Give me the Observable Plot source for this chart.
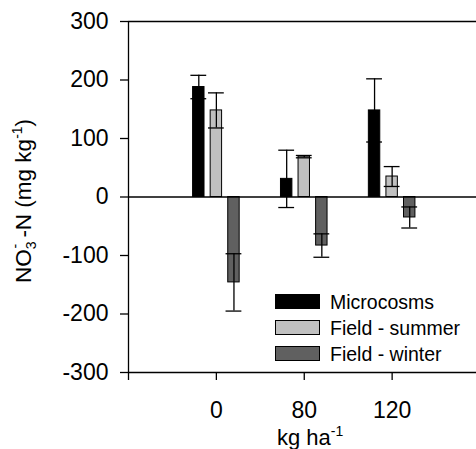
<!DOCTYPE html>
<html><head><meta charset="utf-8">
<script src="https://cdn.jsdelivr.net/npm/d3@7"></script>
<script src="https://cdn.jsdelivr.net/npm/@observablehq/plot@0.6"></script>
<style>body{margin:0;overflow:hidden;background:#fff} svg{display:block}</style>
</head><body><div id="chart"></div>
<script>
const categories = ["0", "80", "120"];
const seriesNames = ["Microcosms", "Field - summer", "Field - winter"];
const microcosms = [188, 31, 148];
const microcosmsErr = [20, 49, 54];
const fieldSummer = [148, 69, 35];
const fieldSummerErr = [30, 2, 17];
const fieldWinter = [-146, -83, -35];
const fieldWinterErr = [49, 20, 18];
const yTicks = [-300, -200, -100, 0, 100, 200, 300];
const colors = ["#000000", "#c0c0c0", "#606060"];

const values = [microcosms, fieldSummer, fieldWinter];
const errs = [microcosmsErr, fieldSummerErr, fieldWinterErr];
const data = [];
seriesNames.forEach((s, si) => categories.forEach((c, ci) =>
  data.push({series: s, si, ci, cat: c, value: values[si][ci], err: errs[si][ci]})));

const groupX = d => d.ci + 1 + (d.si - 1) * 0.2;
const barHalf = 0.065, capHalf = 0.09;
const font = "'Liberation Sans', Arial, Helvetica, sans-serif";

const chart = Plot.plot({
  width: 476, height: 449,
  marginLeft: 128, marginRight: 0, marginTop: 21, marginBottom: 77,
  style: {fontFamily: font, fontSize: "23px", color: "#000", background: "#fff", overflow: "visible"},
  x: {domain: [0, 3.96]},
  y: {domain: [-300, 300]},
  color: {domain: seriesNames, range: colors},
  marks: [
    Plot.rect(data, {x1: d => groupX(d) - barHalf, x2: d => groupX(d) + barHalf, y1: 0, y2: "value",
      fill: "series", stroke: "#000", strokeWidth: 1}),
    Plot.ruleX(data, {x: groupX, y1: d => d.value - d.err, y2: d => d.value + d.err, stroke: "#000", strokeWidth: 1.3}),
    Plot.ruleY(data, {x1: d => groupX(d) - capHalf, x2: d => groupX(d) + capHalf, y: d => d.value + d.err, stroke: "#000", strokeWidth: 1.3}),
    Plot.ruleY(data, {x1: d => groupX(d) - capHalf, x2: d => groupX(d) + capHalf, y: d => d.value - d.err, stroke: "#000", strokeWidth: 1.3}),
    Plot.ruleY([-300, 0, 300], {stroke: "#000", strokeWidth: 1.3}),
    Plot.ruleX([0], {stroke: "#000", strokeWidth: 1.3}),
    Plot.axisX({ticks: [0, 1, 2, 3], tickFormat: i => i === 0 ? "" : categories[i - 1],
      tickSize: 8, tickPadding: 21, strokeWidth: 1.3, label: null, fontSize: 23}),
    Plot.axisY({ticks: yTicks, tickFormat: d => String(d), tickSize: 8, tickPadding: 12,
      strokeWidth: 1.3, label: null, fontSize: 23})
  ]
});

const svg = d3.select(chart);

// Y axis title
const yt = svg.append("text")
  .attr("transform", "translate(31,201) rotate(-90)")
  .attr("text-anchor", "middle")
  .attr("font-family", font).attr("font-size", 22.5).attr("fill", "#000");
yt.append("tspan").text("NO");
yt.append("tspan").attr("dy", 5).attr("font-size", 14).text("3");
yt.append("tspan").attr("dx", -7).attr("dy", -16).attr("font-size", 14).text("-");
yt.append("tspan").attr("dy", 11).text(" -N (mg kg");
yt.append("tspan").attr("dy", -9).attr("font-size", 14).text("-1");
yt.append("tspan").attr("dy", 9).text(")");

// X axis title
const xt = svg.append("text")
  .attr("x", 277).attr("y", 445)
  .attr("text-anchor", "start")
  .attr("font-family", font).attr("font-size", 22).attr("fill", "#000");
xt.append("tspan").text("kg ha");
xt.append("tspan").attr("dy", -9).attr("font-size", 14).text("-1");

// Legend
const lg = svg.append("g").attr("font-family", font).attr("font-size", 19.5).attr("text-anchor", "start");
seriesNames.forEach((s, i) => {
  const y0 = 294 + i * 26;
  lg.append("rect").attr("x", 275.5).attr("y", y0 + 0.5).attr("width", 44).attr("height", 14)
    .attr("fill", colors[i]).attr("stroke", "#000").attr("stroke-width", 1);
  lg.append("text").attr("x", 330).attr("y", y0 + 14.5).attr("fill", "#000").text(s);
});

document.getElementById("chart").appendChild(chart);
</script>
</body></html>
